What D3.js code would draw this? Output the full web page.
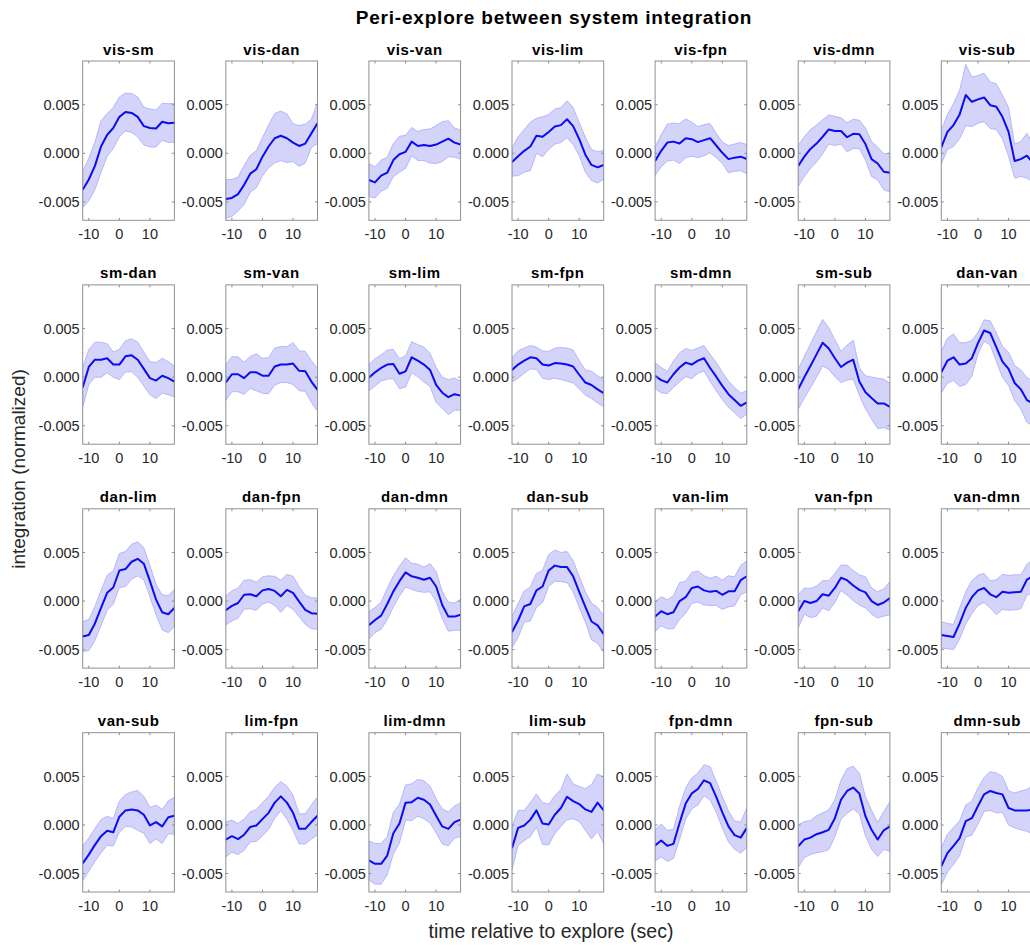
<!DOCTYPE html>
<html>
<head>
<meta charset="utf-8">
<script src="https://cdn.jsdelivr.net/npm/d3@7"></script>
<style>
body { margin: 0; background: #fff; }
text { font-family: "Liberation Sans", Arial, Helvetica, sans-serif; }
</style>
</head>
<body>
<script>
// values, in units of 1e-3
var pairs = ['vis-sm','vis-dan','vis-van','vis-lim','vis-fpn','vis-dmn','vis-sub',
  'sm-dan','sm-van','sm-lim','sm-fpn','sm-dmn','sm-sub','dan-van',
  'dan-lim','dan-fpn','dan-dmn','dan-sub','van-lim','van-fpn','van-dmn',
  'van-sub','lim-fpn','lim-dmn','lim-sub','fpn-dmn','fpn-sub','dmn-sub'];

var times = [-12,-10,-8,-6,-4,-2,0,2,4,6,8,10,12,14,16,18];

var meanVals = [
  [-3.75,-2.7,-1.3,0.7,1.9,2.6,3.75,4.25,4.15,3.75,2.8,2.6,2.55,3.25,3.1,3.15],
  [-4.7,-4.6,-4.2,-3.25,-2.1,-1.65,-0.35,0.7,1.55,1.8,1.55,1.1,0.75,1.0,2.05,3.1],
  [-2.75,-3.0,-2.3,-2.0,-0.7,-0.1,0.15,1.2,0.75,0.85,0.75,0.9,1.2,1.5,1.1,0.9],
  [-0.9,-0.3,0.25,0.7,1.8,1.7,2.2,2.75,2.9,3.5,2.8,1.45,-0.15,-1.2,-1.45,-1.2],
  [-0.8,0.25,1.1,1.2,1.0,1.55,1.45,1.15,1.35,1.55,0.8,0.05,-0.6,-0.45,-0.35,-0.6],
  [-1.3,-0.35,0.45,1.0,1.7,2.45,2.3,2.3,1.65,2.0,1.95,0.95,-0.6,-1.05,-1.9,-2.0],
  [0.6,2.2,2.9,4.0,6.0,5.3,5.55,5.75,4.95,4.8,3.75,2.2,-0.8,-0.6,-0.25,-1.0],
  [-1.05,1.05,1.8,1.8,1.95,1.3,1.3,2.15,2.25,1.8,0.85,-0.1,-0.35,0.15,-0.1,-0.45],
  [-0.55,0.3,0.3,-0.1,0.5,0.5,0.15,0.15,1.1,1.3,1.3,1.4,0.65,0.6,-0.45,-1.3],
  [-0.05,0.5,0.95,1.3,1.35,0.35,0.6,2.05,1.7,1.3,0.75,-0.8,-1.6,-2.05,-1.75,-1.9],
  [0.75,1.3,1.7,2.05,1.95,1.3,1.2,1.45,1.4,1.3,1.1,0.25,-0.55,-0.8,-1.25,-1.65],
  [0.15,-0.3,-0.55,0.3,1.0,1.5,1.3,1.7,1.95,0.95,0.05,-0.9,-1.75,-2.35,-2.95,-2.6],
  [-1.25,0.0,1.15,2.35,3.55,2.95,1.95,1.05,1.5,1.8,-0.45,-1.55,-2.15,-2.7,-2.7,-3.05],
  [0.5,1.7,2.05,1.3,1.4,1.95,3.5,4.8,4.55,3.1,1.6,0.85,-0.6,-1.25,-2.35,-2.7],
  [-3.65,-3.5,-2.3,-0.7,0.85,1.4,3.15,3.3,4.05,4.35,3.85,2.05,0.15,-1.15,-1.35,-0.7],
  [-0.95,-0.5,-0.2,0.65,0.7,0.5,1.1,1.25,1.05,0.5,1.15,0.85,-0.05,-0.9,-1.25,-1.3],
  [-2.5,-1.95,-1.5,-0.3,1.0,2.05,2.95,2.55,2.4,2.2,2.4,1.5,-0.4,-1.6,-1.6,-1.4],
  [-3.2,-2.0,-0.55,-0.3,1.1,1.5,3.15,3.65,3.5,3.5,2.55,0.95,-0.6,-2.1,-2.5,-3.4],
  [-1.6,-1.05,-1.35,-1.15,0.0,0.4,1.35,1.5,1.1,0.95,1.05,0.65,1.0,1.0,2.15,2.55],
  [-1.05,0.0,-0.2,0.0,0.7,0.55,1.35,2.4,2.15,1.6,1.15,0.9,0.0,-0.4,-0.15,0.3],
  [-3.5,-3.6,-3.7,-2.3,-0.7,0.4,1.1,1.35,0.7,0.4,0.95,0.85,0.9,0.95,2.2,2.55],
  [-3.95,-3.05,-2.05,-1.15,-0.6,-0.75,0.85,1.5,1.6,1.5,1.05,-0.05,0.3,-0.15,0.8,0.95],
  [-1.5,-1.15,-1.45,-1.0,-0.2,-0.05,0.6,1.25,2.3,2.95,2.3,1.25,-0.4,-0.4,0.3,0.95],
  [-3.65,-4.0,-4.0,-3.15,-0.85,0.15,2.3,2.35,2.8,2.6,2.1,0.95,-0.15,-0.4,0.3,0.55],
  [-2.4,-0.3,-0.05,0.55,1.5,0.15,0.05,1.05,1.75,2.9,2.45,2.15,1.6,1.35,2.3,1.5],
  [-2.1,-1.6,-2.15,-1.95,0.2,2.2,3.25,3.7,4.6,4.3,2.9,1.3,-0.15,-1.05,-1.3,-0.3],
  [-2.2,-1.5,-1.3,-0.95,-0.75,-0.5,0.7,2.6,3.5,3.85,3.25,0.9,-0.5,-1.5,-0.55,-0.15],
  [-4.25,-2.9,-2.15,-1.35,0.4,0.7,1.95,3.15,3.5,3.3,3.15,1.75,1.5,1.5,1.5,1.6]
];

var semVals = [
  [1.85,2.2,2.45,2.65,2.2,2.1,2.05,1.95,2.0,2.05,1.95,1.95,1.9,1.9,2.0,2.0],
  [2.0,1.9,1.75,2.0,1.9,1.9,1.95,2.2,2.55,2.55,2.5,1.95,2.1,2.0,1.45,2.1],
  [1.7,1.6,1.6,1.6,1.7,1.85,1.7,1.45,1.5,1.6,1.75,1.95,2.05,1.85,1.5,1.5],
  [1.45,2.0,2.2,2.5,1.8,2.05,1.8,1.8,1.8,1.9,1.9,1.7,1.8,1.6,1.6,1.5],
  [1.45,1.65,1.9,1.9,2.05,2.0,1.75,1.6,1.6,1.5,1.25,1.1,1.4,1.4,1.45,1.5],
  [2.1,2.05,2.0,1.9,1.75,1.5,1.5,1.35,1.5,1.5,1.45,1.65,1.8,1.7,1.85,2.0],
  [1.7,1.8,2.2,2.5,3.15,2.55,2.45,2.5,2.4,2.35,2.25,2.5,1.75,1.8,2.3,2.0],
  [2.05,1.8,1.8,1.8,1.5,1.3,1.55,1.6,1.7,1.8,1.75,1.7,1.85,1.8,1.7,1.6],
  [1.85,1.8,1.8,1.65,1.65,1.9,1.8,1.85,1.9,1.85,1.85,2.15,2.05,2.05,2.15,2.2],
  [1.35,1.4,1.35,1.5,1.5,1.55,1.6,1.6,1.65,1.8,1.7,1.8,1.6,1.8,1.65,1.5],
  [1.25,1.4,1.3,1.2,1.15,1.4,1.45,1.55,1.65,1.7,1.7,1.45,1.3,1.4,1.4,1.4],
  [1.35,1.3,1.15,1.35,1.5,1.45,1.45,1.3,1.3,1.4,1.45,1.4,1.35,1.3,1.3,1.2],
  [2.05,2.15,2.25,2.35,2.4,2.15,1.9,1.6,1.8,2.0,1.4,1.7,2.15,2.6,2.5,2.4],
  [2.15,2.3,2.4,2.25,2.15,1.85,1.1,1.1,1.25,1.45,1.6,1.7,1.8,2.0,2.3,2.3],
  [1.55,1.6,1.75,1.8,1.8,1.7,1.75,1.8,1.8,1.75,1.65,1.6,1.55,1.8,1.9,1.9],
  [1.5,1.55,1.55,1.5,1.5,1.45,1.4,1.35,1.5,1.65,1.6,1.7,1.55,1.5,1.6,1.6],
  [1.4,1.3,1.4,1.6,1.6,1.55,1.5,1.35,1.4,1.3,1.45,1.55,1.4,1.5,1.4,1.6],
  [1.6,1.75,1.6,1.75,1.75,1.65,1.65,1.6,1.5,1.6,1.6,1.6,1.55,1.9,1.85,1.9],
  [1.55,1.5,1.5,1.7,1.9,1.65,1.6,1.6,1.5,1.4,1.5,1.5,1.6,1.5,1.5,1.6],
  [1.7,1.35,1.5,1.55,1.4,1.55,1.5,1.3,1.55,1.55,1.55,1.6,1.35,1.35,1.4,1.7],
  [1.35,1.3,1.3,1.6,1.65,1.7,1.55,1.5,1.4,1.8,1.8,1.8,1.8,1.75,1.6,1.7],
  [1.8,1.7,1.7,1.7,1.5,1.4,1.6,1.65,1.8,2.05,1.9,1.85,1.75,1.75,1.7,1.9],
  [1.8,1.65,1.6,1.6,1.55,1.65,1.7,1.7,1.6,1.5,1.7,1.8,1.55,1.55,1.75,1.95],
  [2.0,2.1,2.1,1.95,2.15,2.0,1.8,1.9,1.9,1.95,1.9,1.75,1.8,1.75,1.65,1.75],
  [2.25,1.8,1.55,1.75,1.7,2.15,2.1,1.95,1.9,2.35,1.8,1.8,2.15,2.8,2.95,3.45],
  [1.6,1.7,1.6,1.5,1.7,1.6,1.6,1.65,1.6,1.7,1.6,1.6,1.6,1.45,1.6,2.0],
  [2.2,1.85,1.75,1.9,2.0,2.05,1.9,2.0,2.3,2.2,2.1,2.0,2.0,1.75,1.95,2.55],
  [1.9,1.95,1.9,1.8,1.65,1.75,1.85,1.75,2.0,2.05,1.85,1.75,1.8,2.0,2.15,2.55]
];

var xTicks = [-10, 0, 10];
var xTickLabels = ['-10', '0', '10'];
var yTicks = [-5, 0, 5];
var yTickLabels = ['-0.005', '0.000', '0.005'];

var params = {
  width: 1030, height: 949,
  left: 82.7, top: 61,
  pwidth: 91.7, pheight: 159.3,
  colStep: 143.1, rowStep: 223.9,
  cols: 7
};

var svg = d3.select('body').append('svg')
  .attr('width', params.width)
  .attr('height', params.height);

var x = d3.scaleLinear().domain([-12, 18]).range([0, params.pwidth]);
var y = d3.scaleLinear().domain([-6.9, 9.5]).range([params.pheight, 0]);

var band = d3.area()
  .x(function(d) { return x(d.t); })
  .y0(function(d) { return y(d.m - d.s); })
  .y1(function(d) { return y(d.m + d.s); });

var line = d3.line()
  .x(function(d) { return x(d.t); })
  .y(function(d) { return y(d.m); });

svg.append('defs').append('clipPath').attr('id', 'panel-clip')
  .append('rect')
  .attr('width', params.pwidth)
  .attr('height', params.pheight);

pairs.forEach(function(name, i) {
  var r = Math.floor(i / params.cols), c = i % params.cols;
  var g = svg.append('g')
    .attr('transform', 'translate(' + (params.left + c * params.colStep) + ',' + (params.top + r * params.rowStep) + ')');

  var pts = times.map(function(t, k) {
    return {t: t, m: meanVals[i][k], s: semVals[i][k]};
  });

  var plot = g.append('g').attr('clip-path', 'url(#panel-clip)');
  plot.append('path').datum(pts)
    .attr('d', band)
    .style('fill', '#d4d4fb')
    .style('stroke', '#a9a9f6')
    .style('stroke-width', 0.8);
  plot.append('path').datum(pts)
    .attr('d', line)
    .style('fill', 'none')
    .style('stroke', '#0c0cf0')
    .style('stroke-width', 2)
    .style('stroke-linejoin', 'round');

  // box
  g.append('rect')
    .attr('width', params.pwidth)
    .attr('height', params.pheight)
    .style('fill', 'none')
    .style('stroke', '#8f8f8f')
    .style('stroke-width', 1);

  // inward ticks on all four sides
  var tl = 2.5;
  xTicks.forEach(function(v) {
    g.append('line').attr('x1', x(v)).attr('x2', x(v)).attr('y1', params.pheight).attr('y2', params.pheight - tl)
      .style('stroke', '#8f8f8f');
    g.append('line').attr('x1', x(v)).attr('x2', x(v)).attr('y1', 0).attr('y2', tl)
      .style('stroke', '#8f8f8f');
  });
  yTicks.forEach(function(v) {
    g.append('line').attr('x1', 0).attr('x2', tl).attr('y1', y(v)).attr('y2', y(v))
      .style('stroke', '#8f8f8f');
    g.append('line').attr('x1', params.pwidth).attr('x2', params.pwidth - tl).attr('y1', y(v)).attr('y2', y(v))
      .style('stroke', '#8f8f8f');
  });

  g.selectAll('.xt').data(xTicks).enter().append('text')
    .attr('x', function(d) { return x(d); })
    .attr('y', params.pheight + 19)
    .attr('text-anchor', 'middle')
    .style('font-size', '14.5px')
    .style('fill', '#262626')
    .text(function(d, k) { return xTickLabels[k]; });

  g.selectAll('.yt').data(yTicks).enter().append('text')
    .attr('x', -3)
    .attr('y', function(d) { return y(d); })
    .attr('dy', '0.36em')
    .attr('text-anchor', 'end')
    .style('font-size', '14.5px')
    .style('fill', '#262626')
    .text(function(d, k) { return yTickLabels[k]; });

  g.append('text')
    .attr('x', params.pwidth / 2)
    .attr('y', -6.5)
    .attr('text-anchor', 'middle')
    .style('font-size', '15px')
    .style('font-weight', 'bold')
    .style('letter-spacing', '0.6px')
    .style('fill', '#000')
    .text(name);
});

svg.append('text')
  .attr('x', 554).attr('y', 24)
  .attr('text-anchor', 'middle')
  .style('font-size', '19px')
  .style('font-weight', 'bold')
  .style('letter-spacing', '0.8px')
  .text('Peri-explore between system integration');

svg.append('text')
  .attr('transform', 'translate(25,469) rotate(-90)')
  .attr('text-anchor', 'middle')
  .style('font-size', '19px')
  .style('fill', '#262626')
  .text('integration (normalized)');

svg.append('text')
  .attr('x', 551).attr('y', 938)
  .attr('text-anchor', 'middle')
  .style('font-size', '19.5px')
  .style('fill', '#262626')
  .text('time relative to explore (sec)');
</script>
</body>
</html>
